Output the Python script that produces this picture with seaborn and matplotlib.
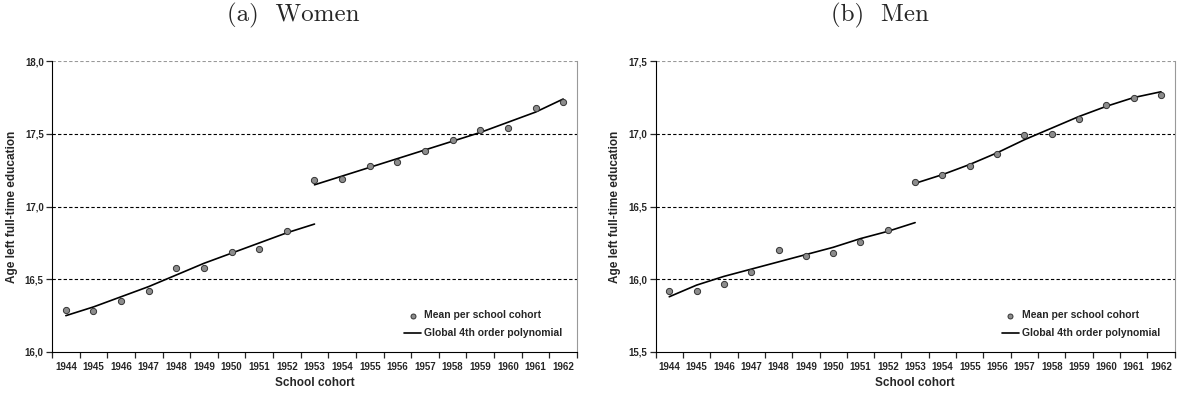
import numpy as np
import pandas as pd
import matplotlib
matplotlib.use("Agg")
import matplotlib.pyplot as plt
import seaborn as sns

years = list(range(1944, 1963))

# mean age left full-time education per school cohort
women_mean = [16.29, 16.28, 16.35, 16.42, 16.58, 16.58, 16.69, 16.71, 16.83, 17.18,
              17.19, 17.28, 17.31, 17.38, 17.46, 17.53, 17.54, 17.68, 17.72]
men_mean = [15.92, 15.92, 15.97, 16.05, 16.20, 16.16, 16.18, 16.26, 16.34, 16.67,
            16.72, 16.78, 16.86, 16.99, 17.00, 17.10, 17.20, 17.25, 17.27]

# fitted polynomial, before (1944-1953) and after (1953-1962) the reform
women_fit_pre = [16.25, 16.31, 16.38, 16.45, 16.53, 16.61, 16.68, 16.75, 16.82, 16.88]
women_fit_post = [17.15, 17.21, 17.27, 17.33, 17.39, 17.45, 17.51, 17.58, 17.65, 17.74]
men_fit_pre = [15.88, 15.96, 16.02, 16.07, 16.12, 16.17, 16.22, 16.28, 16.33, 16.39]
men_fit_post = [16.66, 16.72, 16.79, 16.87, 16.96, 17.04, 17.12, 17.19, 17.25, 17.29]

sns.set_style("white")
plt.rcParams['font.family'] = ['Liberation Sans', 'DejaVu Sans']

fig = plt.figure(figsize=(11.77, 3.94), dpi=100)


def panel(ax, means, fit_pre, fit_post, ylo, title, tx):
    x = np.arange(len(years))
    df = pd.DataFrame({'x': x, 'y': means})
    sns.lineplot(x=x[:10], y=fit_pre, ax=ax, color='black', lw=1.2,
                 label='Global 4th order polynomial')
    sns.lineplot(x=x[9:], y=fit_post, ax=ax, color='black', lw=1.2)
    sns.scatterplot(data=df, x='x', y='y', ax=ax, color='#8c8c8c', edgecolor='#333333',
                    linewidth=0.7, s=20, zorder=5, label='Mean per school cohort')
    ax.set_xlim(-0.5, 18.5)
    ax.set_ylim(ylo, ylo + 2.0)
    yt = np.arange(ylo, ylo + 2.01, 0.5)
    ax.set_yticks(yt)
    ax.set_yticklabels([f"{v:.1f}".replace('.', ',') for v in yt])
    ax.set_xticks(x)
    ax.set_xticklabels([str(y) for y in years])
    ax.set_xticks(np.arange(-0.5, 18.6, 1), minor=True)
    ax.tick_params(axis='x', which='major', length=0, labelsize=7, pad=7)
    ax.tick_params(axis='x', which='minor', length=4, width=0.9, direction='out', bottom=True)
    ax.tick_params(axis='y', length=4, width=0.9, direction='out', left=True, labelsize=7, pad=2)
    for lbl in ax.get_xticklabels() + ax.get_yticklabels():
        lbl.set_fontweight('bold')
    for v in yt[1:]:
        ax.axhline(v, color='black' if v < ylo + 1.9 else '#999999', lw=0.8, ls=(0, (3, 2)), zorder=1)
    ax.spines['left'].set_color('black')
    ax.spines['bottom'].set_color('black')
    ax.spines['top'].set_visible(False)
    ax.spines['right'].set_color('#999999')
    ax.set_xlabel('School cohort', fontsize=8.5, fontweight='bold', labelpad=4)
    ax.set_ylabel('Age left full-time education', fontsize=8.5, fontweight='bold', labelpad=5)
    h, l = ax.get_legend_handles_labels()
    ax.legend(h[::-1], l[::-1], loc='lower right', bbox_to_anchor=(0.99, 0.015), frameon=False,
              prop={'size': 7.5, 'weight': 'bold'}, handlelength=1.6, handletextpad=0.3,
              labelspacing=0.75, markerscale=0.8)
    fig.text(tx, 0.962, title, ha='center', va='center', fontsize=18, family='cmr10')


ax1 = fig.add_axes([0.0442, 0.1066, 0.446, 0.738])
panel(ax1, women_mean, women_fit_pre, women_fit_post, 16.0, '(a)  Women', 0.249)
ax2 = fig.add_axes([0.557, 0.1066, 0.441, 0.738])
panel(ax2, men_mean, men_fit_pre, men_fit_post, 15.5, '(b)  Men', 0.748)

fig.savefig('out.png', dpi=100)
